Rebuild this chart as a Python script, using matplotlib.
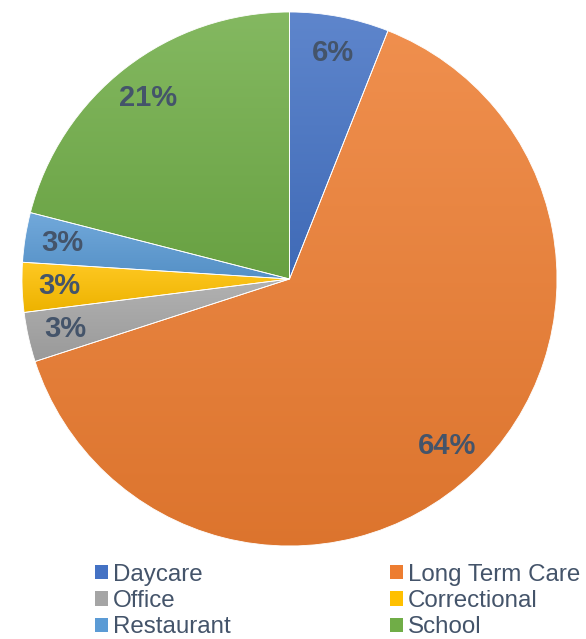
import numpy as np
import matplotlib.pyplot as plt
from matplotlib.patches import Patch
from matplotlib.colors import to_rgb

categories = ['Daycare', 'Long Term Care', 'Office', 'Correctional', 'Restaurant', 'School']
shares = [6, 64, 3, 3, 3, 21]
colors = ['#4472C4', '#ED7D31', '#A5A5A5', '#FFC000', '#5B9BD5', '#70AD47']
text_col = '#44546A'

plt.rcParams['font.family'] = ['Liberation Sans', 'DejaVu Sans']

fig = plt.figure(figsize=(5.86, 6.39), dpi=100)
ax = fig.add_axes([22 / 586, 1 - 546 / 639, 535 / 586, 534 / 639])

wedges, texts = ax.pie(shares, colors=colors, startangle=90, counterclock=False,
                       labels=[f'{v}%' for v in shares], labeldistance=0.86,
                       wedgeprops=dict(edgecolor='#ffffff', linewidth=0.6, alpha=1),
                       textprops=dict(color=text_col, fontsize=21, fontweight='bold',
                                      ha='center', va='center'))


def mix(c, other, t):
    c = np.array(to_rgb(c))
    return c * (1 - t) + np.array(other) * t


# vertical gradient inside each slice, lighter at the top
for w, c in zip(wedges, colors):
    bb = w.get_path().get_extents(w.get_patch_transform())
    top = mix(c, (1, 1, 1), 0.14)
    bot = mix(c, (0, 0, 0), 0.07)
    t = np.linspace(0, 1, 256)[:, None]
    grad = (bot[None, :] * (1 - t) + top[None, :] * t)[:, None, :]
    im = ax.imshow(grad, extent=[bb.x0, bb.x1, bb.y0, bb.y1], origin='lower',
                   aspect='auto', zorder=0.5, interpolation='bilinear')
    im.set_clip_path(w)
    w.set_facecolor('none')
    w.set_zorder(1)

for t in texts:
    t.set_zorder(3)

ax.set_xlim(-1, 1)
ax.set_ylim(-1, 1)
ax.set_aspect('auto')
ax.axis('off')

# legend filled row by row: two entries per row
order = [0, 2, 4, 1, 3, 5]
handles = [Patch(facecolor=colors[i], edgecolor='none') for i in order]
fig.legend(handles, [categories[i] for i in order], ncol=2, loc='lower left',
           bbox_to_anchor=(0.125, -0.033), frameon=False, fontsize=17.4,
           labelcolor=text_col, handlelength=0.55, handleheight=0.55,
           handletextpad=0.2, columnspacing=6.58, labelspacing=0.18)

fig.savefig('out.png', dpi=100)
